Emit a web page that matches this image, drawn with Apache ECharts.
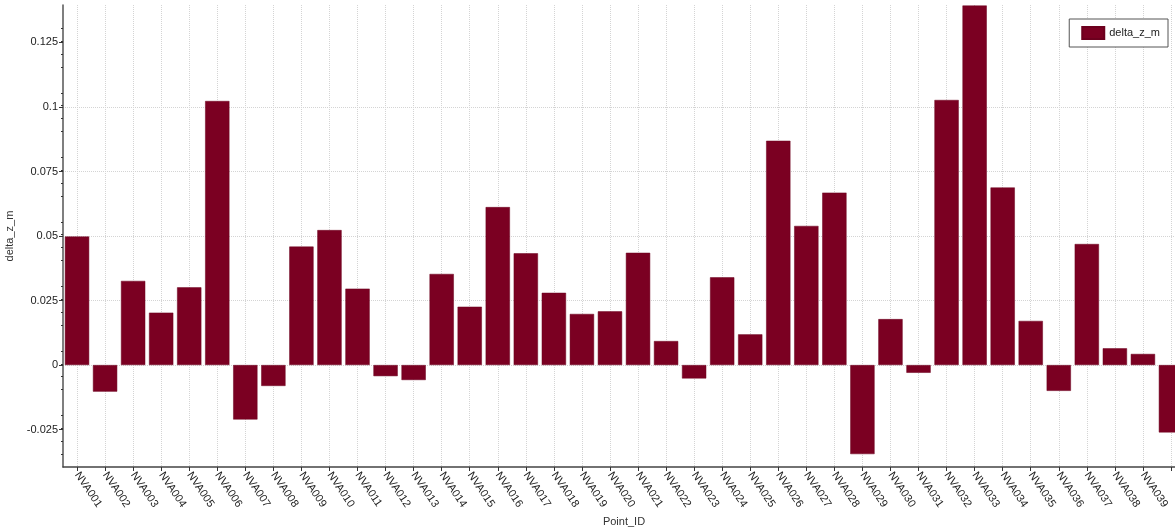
<!DOCTYPE html>
<html>
<head>
<meta charset="utf-8">
<title>delta_z_m</title>
<script src="https://cdn.jsdelivr.net/npm/echarts@6/dist/echarts.min.js"></script>
<style>
	html, body { margin: 0; padding: 0; background: #fff; }
	#chart { width: 1175px; height: 529px; }
</style>
</head>
<body>
<div id="chart"></div>
<script>
	// point ids along the x axis
	var pointIds = [];
	for (var i = 1; i <= 40; i++) {
		pointIds.push('NVA' + (i < 10 ? '00' : '0') + i);
	}
	// delta_z_m per point
	var deltaZ = [
		0.0498, -0.0103, 0.0326, 0.0203, 0.0301, 0.1023, -0.0211, -0.0081, 0.0459, 0.0523,
		0.0296, -0.0043, -0.0058, 0.0353, 0.0226, 0.0612, 0.0433, 0.0280, 0.0198, 0.0208,
		0.0435, 0.0093, -0.0052, 0.0340, 0.0119, 0.0869, 0.0539, 0.0668, -0.0345, 0.0178,
		-0.0030, 0.1027, 0.1393, 0.0688, 0.0171, -0.0100, 0.0469, 0.0065, 0.0043, -0.0261
	];
	// y tick labels
	var yTicks = [-0.025, 0, 0.025, 0.05, 0.075, 0.1, 0.125];
	var yMin = -0.0395, yMax = 0.1395, yStep = 0.025;

	var font = 'Liberation Sans';
	var myChart = echarts.init(document.getElementById('chart'));
	var option = {
		backgroundColor: '#fff',
		animation: false,
		textStyle: { fontFamily: font },
		grid: { left: 63, right: -10, top: 5, bottom: 62, containLabel: false, outerBoundsMode: 'none' },
		legend: {
			data: ['delta_z_m'],
			right: 7,
			top: 19,
			orient: 'vertical',
			backgroundColor: '#fff',
			borderColor: '#555',
			borderWidth: 1,
			borderRadius: 0,
			padding: [7, 8, 7, 12],
			itemWidth: 22,
			itemHeight: 12,
			icon: 'rect',
			textStyle: { fontFamily: font, fontSize: 11, color: '#222' }
		},
		xAxis: {
			type: 'category',
			data: pointIds,
			name: 'Point_ID',
			nameLocation: 'middle',
			nameGap: 43,
			nameTextStyle: { fontFamily: font, fontSize: 11, color: '#333' },
			axisLine: { onZero: false, lineStyle: { color: '#444', width: 1.5 } },
			axisTick: { show: true, alignWithLabel: true, length: 4, lineStyle: { color: '#333' } },
			axisLabel: {
				rotate: -56,
				margin: 6,
				fontSize: 11,
				color: '#222',
				interval: 0,
				formatter: function (v, idx) { return idx >= 39 ? '' : v; }
			},
			splitLine: {
				show: true,
				alignWithLabel: true,
				lineStyle: { color: '#d4d4d4', type: 'dotted', width: 1 }
			}
		},
		yAxis: {
			type: 'value',
			min: yMin,
			max: yMax,
			interval: yStep,
			name: 'delta_z_m',
			nameLocation: 'middle',
			nameGap: 46,
			nameTextStyle: { fontFamily: font, fontSize: 11, color: '#333' },
			axisLine: { show: true, lineStyle: { color: '#555', width: 1.5 } },
			axisTick: { show: true, customValues: yTicks, length: 4, lineStyle: { color: '#333' } },
			minorTick: { show: true, splitNumber: 5, length: 2, lineStyle: { color: '#333' } },
			axisLabel: {
				customValues: yTicks,
				margin: 5,
				fontSize: 11,
				color: '#222',
				formatter: function (v) { return String(Math.round(v * 1000) / 1000); }
			},
			splitLine: {
				show: true,
				showMinLine: false,
				showMaxLine: false,
				lineStyle: { color: '#d4d4d4', type: 'dotted', width: 1 }
			}
		},
		series: [{
			name: 'delta_z_m',
			type: 'bar',
			data: deltaZ,
			barCategoryGap: '13.5%',
			itemStyle: { color: '#7b0022', borderColor: '#6c001e', borderWidth: 0.5 }
		}]
	};
	myChart.setOption(option);
</script>
</body>
</html>
